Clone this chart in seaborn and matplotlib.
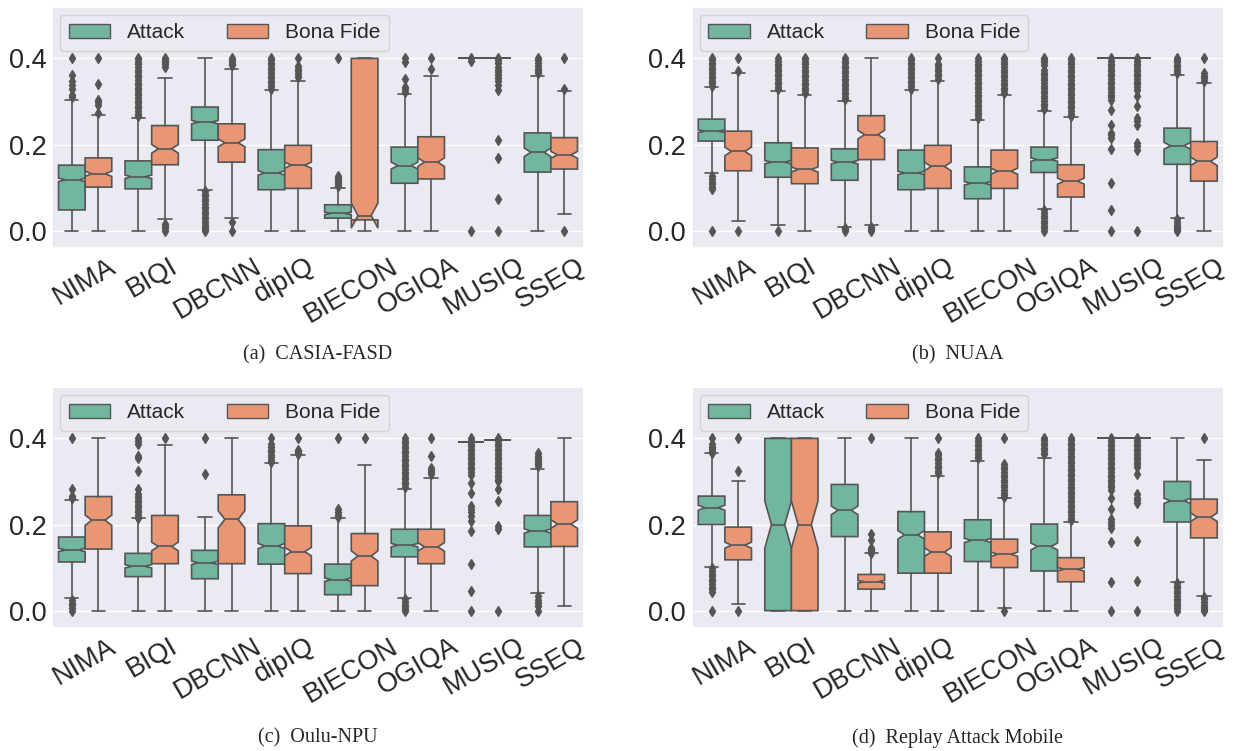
import matplotlib
matplotlib.use("Agg")
import matplotlib.pyplot as plt
from matplotlib.patches import Patch
import seaborn as sns

methods = ["NIMA", "BIQI", "DBCNN", "dipIQ", "BIECON", "OGIQA", "MUSIQ", "SSEQ"]
hues = ["Attack", "Bona Fide"]
captions = ["(a)  CASIA-FASD", "(b)  NUAA", "(c)  Oulu-NPU", "(d)  Replay Attack Mobile"]

# box rows: (whisker low, q1, median, q3, whisker high, notch half height)
# ---------------- (a) CASIA-FASD ----------------
casia_attack_box = [
    (0.0, 0.048, 0.118, 0.152, 0.303, 0.004),
    (0.0, 0.097, 0.125, 0.162, 0.262, 0.004),
    (0.095, 0.210, 0.252, 0.287, 0.400, 0.004),
    (0.0, 0.095, 0.134, 0.188, 0.326, 0.005),
    (0.0, 0.029, 0.040, 0.060, 0.100, 0.003),
    (0.0, 0.110, 0.151, 0.194, 0.317, 0.008),
    (0.4, 0.4, 0.4, 0.4, 0.4, 0.0),
    (0.0, 0.136, 0.182, 0.227, 0.360, 0.010),
]
casia_attack_out = [
    [0.4, 0.362, 0.348, 0.338, 0.330, 0.316, 0.310],
    [0.266, 0.272, 0.278, 0.284, 0.290, 0.296, 0.302, 0.308, 0.314, 0.320, 0.326, 0.332,
     0.338, 0.344, 0.350, 0.356, 0.362, 0.368, 0.374, 0.380, 0.386, 0.392, 0.398, 0.4],
    [0.092, 0.086, 0.080, 0.074, 0.068, 0.062, 0.056, 0.050, 0.044, 0.038, 0.032, 0.026,
     0.020, 0.014, 0.008, 0.003, 0.0],
    [0.330, 0.336, 0.342, 0.348, 0.354, 0.360, 0.366, 0.372, 0.378, 0.384, 0.390, 0.396, 0.4],
    [0.4, 0.104, 0.108, 0.112, 0.116, 0.120, 0.124, 0.128],
    [0.4, 0.392, 0.352, 0.334, 0.328, 0.322],
    [0.4, 0.395, 0.0],
    [0.4, 0.397, 0.390, 0.382, 0.375, 0.370, 0.365],
]
casia_bona_box = [
    (0.0, 0.101, 0.132, 0.169, 0.268, 0.006),
    (0.026, 0.153, 0.190, 0.244, 0.354, 0.010),
    (0.029, 0.159, 0.204, 0.248, 0.375, 0.009),
    (0.0, 0.098, 0.152, 0.198, 0.348, 0.007),
    (0.0, 0.025, 0.035, 0.400, 0.400, 0.029),
    (0.0, 0.120, 0.159, 0.218, 0.359, 0.010),
    (0.4, 0.4, 0.4, 0.4, 0.4, 0.0),
    (0.039, 0.143, 0.176, 0.216, 0.324, 0.008),
]
casia_bona_out = [
    [0.4, 0.341, 0.304, 0.298, 0.292, 0.273],
    [0.4, 0.396, 0.392, 0.386, 0.380, 0.016, 0.010, 0.005, 0.0],
    [0.4, 0.396, 0.392, 0.388, 0.384, 0.020, 0.0],
    [0.4, 0.382, 0.375, 0.370, 0.364, 0.356],
    [],
    [0.4, 0.375],
    [0.4, 0.397, 0.389, 0.381, 0.374, 0.368, 0.362, 0.354, 0.347, 0.339, 0.327,
     0.211, 0.169, 0.074, 0.0],
    [0.4, 0.329, 0.0],
]

# ---------------- (b) NUAA ----------------
nuaa_attack_box = [
    (0.134, 0.208, 0.231, 0.259, 0.333, 0.003),
    (0.013, 0.124, 0.159, 0.204, 0.324, 0.004),
    (0.009, 0.117, 0.159, 0.190, 0.301, 0.004),
    (0.0, 0.095, 0.134, 0.187, 0.326, 0.004),
    (0.0, 0.074, 0.110, 0.148, 0.258, 0.004),
    (0.050, 0.135, 0.165, 0.194, 0.279, 0.004),
    (0.4, 0.4, 0.4, 0.4, 0.4, 0.0),
    (0.029, 0.154, 0.197, 0.238, 0.361, 0.008),
]
nuaa_attack_out = [
    [0.336, 0.342, 0.348, 0.354, 0.360, 0.366, 0.372, 0.378, 0.384, 0.390, 0.396, 0.4,
     0.126, 0.120, 0.114, 0.108, 0.102, 0.096, 0.0],
    [0.328, 0.334, 0.340, 0.346, 0.352, 0.358, 0.364, 0.370, 0.376, 0.382, 0.388, 0.394, 0.4, 0.0],
    [0.305, 0.311, 0.317, 0.323, 0.329, 0.335, 0.341, 0.347, 0.353, 0.359, 0.365, 0.371,
     0.377, 0.383, 0.389, 0.395, 0.4, 0.006, 0.003, 0.0],
    [0.330, 0.336, 0.342, 0.348, 0.354, 0.360, 0.366, 0.372, 0.378, 0.384, 0.390, 0.396, 0.4],
    [0.262, 0.268, 0.274, 0.280, 0.286, 0.292, 0.298, 0.304, 0.310, 0.316, 0.322, 0.328,
     0.334, 0.340, 0.346, 0.352, 0.358, 0.364, 0.370, 0.376, 0.382, 0.388, 0.394, 0.4],
    [0.283, 0.289, 0.295, 0.301, 0.307, 0.313, 0.319, 0.325, 0.331, 0.337, 0.343, 0.349,
     0.355, 0.361, 0.367, 0.373, 0.385, 0.391, 0.397, 0.4,
     0.047, 0.041, 0.035, 0.029, 0.023, 0.017, 0.011, 0.005, 0.0],
    [0.4, 0.394, 0.388, 0.382, 0.376, 0.370, 0.364, 0.358, 0.352, 0.346, 0.340, 0.334,
     0.328, 0.322, 0.316, 0.310, 0.304, 0.281, 0.246, 0.227, 0.221, 0.215, 0.190,
     0.111, 0.047, 0.0],
    [0.4, 0.397, 0.391, 0.385, 0.379, 0.373, 0.367, 0.026, 0.020, 0.014, 0.008, 0.003, 0.0],
]
nuaa_bona_box = [
    (0.022, 0.139, 0.184, 0.231, 0.367, 0.010),
    (0.0, 0.109, 0.142, 0.192, 0.316, 0.006),
    (0.014, 0.165, 0.223, 0.267, 0.400, 0.010),
    (0.0, 0.098, 0.149, 0.198, 0.348, 0.010),
    (0.0, 0.098, 0.138, 0.187, 0.316, 0.007),
    (0.0, 0.078, 0.115, 0.153, 0.263, 0.007),
    (0.4, 0.4, 0.4, 0.4, 0.4, 0.0),
    (0.0, 0.115, 0.161, 0.207, 0.344, 0.010),
]
nuaa_bona_out = [
    [0.4, 0.371, 0.0],
    [0.320, 0.326, 0.332, 0.338, 0.344, 0.350, 0.356, 0.362, 0.368, 0.374, 0.380, 0.386,
     0.392, 0.398, 0.4],
    [0.008, 0.004, 0.0],
    [0.4, 0.388, 0.382, 0.376, 0.370, 0.364, 0.358, 0.352],
    [0.320, 0.326, 0.332, 0.338, 0.344, 0.350, 0.356, 0.362, 0.368, 0.374, 0.380, 0.386,
     0.392, 0.398, 0.4],
    [0.266, 0.272, 0.278, 0.284, 0.290, 0.296, 0.302, 0.308, 0.314, 0.320, 0.326, 0.332,
     0.338, 0.344, 0.350, 0.356, 0.362, 0.368, 0.374, 0.380, 0.386, 0.392, 0.398, 0.4],
    [0.4, 0.394, 0.388, 0.382, 0.376, 0.370, 0.364, 0.358, 0.352, 0.346, 0.340, 0.334,
     0.327, 0.312, 0.289, 0.262, 0.254, 0.246, 0.204, 0.196, 0.188, 0.0],
    [0.4, 0.366, 0.360, 0.354, 0.348],
]

# ---------------- (c) Oulu-NPU ----------------
oulu_attack_box = [
    (0.029, 0.113, 0.141, 0.171, 0.258, 0.004),
    (0.0, 0.079, 0.103, 0.133, 0.214, 0.004),
    (0.0, 0.074, 0.111, 0.140, 0.218, 0.004),
    (0.0, 0.108, 0.150, 0.202, 0.342, 0.006),
    (0.0, 0.037, 0.072, 0.108, 0.214, 0.004),
    (0.030, 0.125, 0.152, 0.189, 0.283, 0.004),
    (0.392, 0.392, 0.392, 0.392, 0.392, 0.0),
    (0.042, 0.148, 0.185, 0.221, 0.330, 0.005),
]
oulu_attack_out = [
    [0.4, 0.282, 0.266, 0.262, 0.024, 0.018, 0.012, 0.006, 0.0],
    [0.4, 0.393, 0.386, 0.359, 0.355, 0.324, 0.282, 0.270, 0.264, 0.258, 0.252, 0.246,
     0.240, 0.234, 0.228, 0.222, 0.216],
    [0.4, 0.318],
    [0.4, 0.386, 0.380, 0.374, 0.368, 0.362, 0.356, 0.350, 0.345],
    [0.4, 0.235, 0.229, 0.223, 0.218],
    [0.287, 0.293, 0.299, 0.305, 0.311, 0.317, 0.323, 0.329, 0.335, 0.341, 0.347, 0.353,
     0.359, 0.365, 0.371, 0.377, 0.383, 0.389, 0.395, 0.4,
     0.026, 0.020, 0.014, 0.008, 0.003, 0.0],
    [0.4, 0.394, 0.388, 0.382, 0.376, 0.370, 0.364, 0.358, 0.352, 0.346, 0.340, 0.334,
     0.328, 0.322, 0.316, 0.297, 0.274, 0.243, 0.235, 0.230, 0.220, 0.208, 0.185,
     0.108, 0.046, 0.0],
    [0.365, 0.360, 0.355, 0.350, 0.345, 0.340, 0.335, 0.034, 0.025, 0.018, 0.010, 0.0],
]
oulu_bona_box = [
    (0.0, 0.143, 0.210, 0.265, 0.400, 0.012),
    (0.0, 0.109, 0.149, 0.221, 0.385, 0.010),
    (0.0, 0.109, 0.212, 0.269, 0.400, 0.020),
    (0.0, 0.086, 0.137, 0.197, 0.361, 0.010),
    (0.0, 0.058, 0.127, 0.179, 0.338, 0.012),
    (0.0, 0.109, 0.148, 0.189, 0.309, 0.010),
    (0.396, 0.396, 0.396, 0.396, 0.396, 0.0),
    (0.010, 0.149, 0.201, 0.253, 0.400, 0.010),
]
oulu_bona_out = [
    [],
    [0.4],
    [],
    [0.4, 0.374, 0.370, 0.366, 0.363],
    [0.4],
    [0.4, 0.359, 0.332, 0.327, 0.322, 0.317],
    [0.4, 0.394, 0.388, 0.382, 0.376, 0.370, 0.364, 0.358, 0.352, 0.346, 0.340, 0.334,
     0.328, 0.322, 0.316, 0.310, 0.304, 0.300, 0.282, 0.255, 0.197, 0.189, 0.0],
    [],
]

# ---------------- (d) Replay Attack Mobile ----------------
replay_attack_box = [
    (0.101, 0.200, 0.239, 0.266, 0.365, 0.006),
    (0.0, 0.0, 0.200, 0.400, 0.400, 0.055),
    (0.0, 0.172, 0.233, 0.293, 0.400, 0.010),
    (0.0, 0.087, 0.176, 0.230, 0.400, 0.010),
    (0.0, 0.114, 0.163, 0.211, 0.348, 0.005),
    (0.0, 0.092, 0.149, 0.201, 0.355, 0.008),
    (0.4, 0.4, 0.4, 0.4, 0.4, 0.0),
    (0.067, 0.206, 0.255, 0.300, 0.400, 0.006),
]
replay_attack_out = [
    [0.4, 0.386, 0.381, 0.376, 0.371, 0.366, 0.098, 0.092, 0.086, 0.080, 0.074, 0.068,
     0.062, 0.056, 0.050, 0.044, 0.0],
    [],
    [],
    [],
    [0.4, 0.394, 0.388, 0.382, 0.376, 0.370, 0.364, 0.358, 0.355],
    [0.4, 0.396, 0.390, 0.384, 0.378, 0.372, 0.366, 0.363],
    [0.4, 0.394, 0.388, 0.382, 0.376, 0.370, 0.364, 0.358, 0.352, 0.346, 0.340, 0.334,
     0.328, 0.322, 0.316, 0.310, 0.304, 0.298, 0.292, 0.286, 0.280, 0.262, 0.235,
     0.212, 0.205, 0.199, 0.193, 0.160, 0.067, 0.0],
    [0.064, 0.058, 0.052, 0.046, 0.040, 0.034, 0.028, 0.022, 0.016, 0.010, 0.005, 0.0],
]
replay_bona_box = [
    (0.015, 0.118, 0.152, 0.194, 0.300, 0.007),
    (0.0, 0.0, 0.200, 0.400, 0.400, 0.055),
    (0.0, 0.050, 0.067, 0.084, 0.133, 0.003),
    (0.0, 0.087, 0.136, 0.183, 0.313, 0.010),
    (0.005, 0.100, 0.131, 0.166, 0.262, 0.005),
    (0.0, 0.067, 0.096, 0.123, 0.207, 0.004),
    (0.4, 0.4, 0.4, 0.4, 0.4, 0.0),
    (0.033, 0.169, 0.217, 0.259, 0.349, 0.010),
]
replay_bona_out = [
    [0.4, 0.324, 0.0],
    [],
    [0.4, 0.179, 0.163, 0.146, 0.142, 0.138, 0.135],
    [0.4, 0.367, 0.361, 0.355, 0.349, 0.343, 0.337, 0.331, 0.325, 0.320],
    [0.4, 0.340, 0.334, 0.328, 0.322, 0.316, 0.310, 0.304, 0.298, 0.292, 0.286, 0.280,
     0.274, 0.268, 0.265, 0.0],
    [0.210, 0.216, 0.222, 0.228, 0.234, 0.240, 0.246, 0.252, 0.258, 0.264, 0.270, 0.276,
     0.282, 0.288, 0.294, 0.300, 0.306, 0.312, 0.318, 0.324, 0.330, 0.336, 0.342, 0.348,
     0.354, 0.360, 0.366, 0.372, 0.378, 0.384, 0.390, 0.396, 0.4],
    [0.4, 0.394, 0.388, 0.382, 0.376, 0.370, 0.364, 0.358, 0.352, 0.346, 0.340, 0.334,
     0.317, 0.270, 0.262, 0.256, 0.251, 0.162, 0.069, 0.0],
    [0.4, 0.032, 0.026, 0.020, 0.014, 0.008, 0.003, 0.0],
]

panels = [
    (casia_attack_box, casia_attack_out, casia_bona_box, casia_bona_out),
    (nuaa_attack_box, nuaa_attack_out, nuaa_bona_box, nuaa_bona_out),
    (oulu_attack_box, oulu_attack_out, oulu_bona_box, oulu_bona_out),
    (replay_attack_box, replay_attack_out, replay_bona_box, replay_bona_out),
]

sns.set_theme(style="darkgrid")
plt.rcParams["font.family"] = ["Liberation Sans", "DejaVu Sans"]
colors = [sns.desaturate(c, 0.75) for c in sns.color_palette("Set2", 2)]
line = "#555555"


def to_stats(box, out):
    stats = []
    for (lo, q1, med, q3, hi, ci), fl in zip(box, out):
        stats.append(dict(whislo=lo, q1=q1, med=med, q3=q3, whishi=hi,
                          cilo=med - ci, cihi=med + ci, fliers=fl))
    return stats


fig = plt.figure(figsize=(12.35, 7.51), dpi=100)
lefts = [0.042, 0.560, 0.042, 0.560]
bottoms = [0.670, 0.670, 0.164, 0.164]
w, h = 0.431, 0.321

for k, (att_box, att_out, bon_box, bon_out) in enumerate(panels):
    ax = fig.add_axes([lefts[k], bottoms[k], w, h])
    for j, (box, out) in enumerate([(att_box, att_out), (bon_box, bon_out)]):
        pos = [i - 0.2 + 0.4 * j for i in range(len(methods))]
        ax.bxp(to_stats(box, out), positions=pos, widths=0.4, shownotches=True,
               patch_artist=True, manage_ticks=False,
               boxprops=dict(facecolor=colors[j], edgecolor=line, linewidth=1.2),
               whiskerprops=dict(color=line, linewidth=1.2),
               capprops=dict(color=line, linewidth=1.2),
               medianprops=dict(color=line, linewidth=1.2),
               flierprops=dict(marker="d", markerfacecolor=line, markeredgecolor=line,
                               markersize=5, linestyle="none"))
    ax.set_xlim(-0.5, len(methods) - 0.5)
    ax.set_ylim(-0.04, 0.52)
    ax.set_xticks(range(len(methods)))
    ax.set_xticklabels(methods, rotation=30, fontsize=19.5)
    ax.set_yticks([0.0, 0.2, 0.4])
    ax.set_yticklabels(["0.0", "0.2", "0.4"], fontsize=19.5)
    ax.tick_params(axis="both", length=0, pad=4)
    ax.grid(axis="x", visible=False)
    handles = [Patch(facecolor=colors[0], edgecolor=line, label=hues[0]),
               Patch(facecolor=colors[1], edgecolor=line, label=hues[1])]
    ax.legend(handles=handles, loc="upper left", ncol=2, fontsize=15,
              borderaxespad=0.4)
    cap_y = 0.527 if k < 2 else 0.017
    fig.text(lefts[k] + w / 2, cap_y, captions[k], ha="center", va="center",
             fontsize=14.5, family=["Liberation Serif", "DejaVu Serif"])

fig.savefig("out.png", dpi=100)
